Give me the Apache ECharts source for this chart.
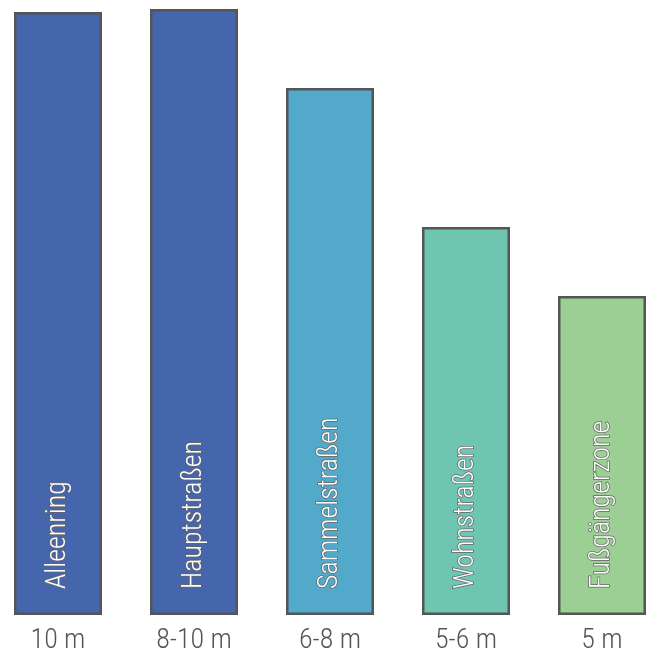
<!DOCTYPE html>
<html>
<head>
<meta charset="utf-8">
<script src="https://cdn.jsdelivr.net/npm/echarts@6/dist/echarts.min.js"></script>
<style>
  html, body { margin: 0; padding: 0; background: #fff; }
  #chart { width: 657px; height: 655px; }
</style>
</head>
<body>
<div id="chart"></div>
<script>
// street widths (x axis) and street types (labels inside bars)
const widths = ["10 m", "8-10 m", "6-8 m", "5-6 m", "5 m"];
const streetTypes = ["Alleenring", "Hauptstraßen", "Sammelstraßen", "Wohnstraßen", "Fußgängerzone"];
const heights = [60.3, 60.6, 52.7, 38.8, 31.9];
const barColors = ["#4565ad", "#4565ad", "#53a9c9", "#6ec5b0", "#9bcf93"];

const condensed = '"Roboto Condensed", "Liberation Sans Narrow", Roboto, sans-serif';

const chart = echarts.init(document.getElementById("chart"));

chart.setOption({
  animation: false,
  grid: { left: 58, right: 55, top: 5, bottom: 40 },
  xAxis: {
    type: "category",
    data: widths,
    boundaryGap: false,
    axisLine: { show: false },
    axisTick: { show: false },
    axisLabel: {
      color: "#555",
      fontSize: 28,
      fontWeight: 300,
      fontFamily: condensed,
      margin: 12
    }
  },
  yAxis: {
    type: "value",
    min: 0,
    max: 61,
    show: false,
    splitLine: { show: false }
  },
  series: [
    {
      type: "bar",
      barWidth: 88,
      data: heights.map((v, i) => ({
        value: v,
        itemStyle: { color: barColors[i] },
        label: { formatter: streetTypes[i] }
      })),
      itemStyle: { borderColor: "#555", borderWidth: 2.5 },
      label: {
        show: true,
        position: "insideBottom",
        rotate: 90,
        align: "left",
        verticalAlign: "middle",
        distance: 26,
        color: "#fff",
        textBorderColor: "#666",
        textBorderWidth: 1.5,
        fontSize: 28,
        fontWeight: 300,
        fontFamily: condensed
      }
    }
  ]
});
</script>
</body>
</html>
